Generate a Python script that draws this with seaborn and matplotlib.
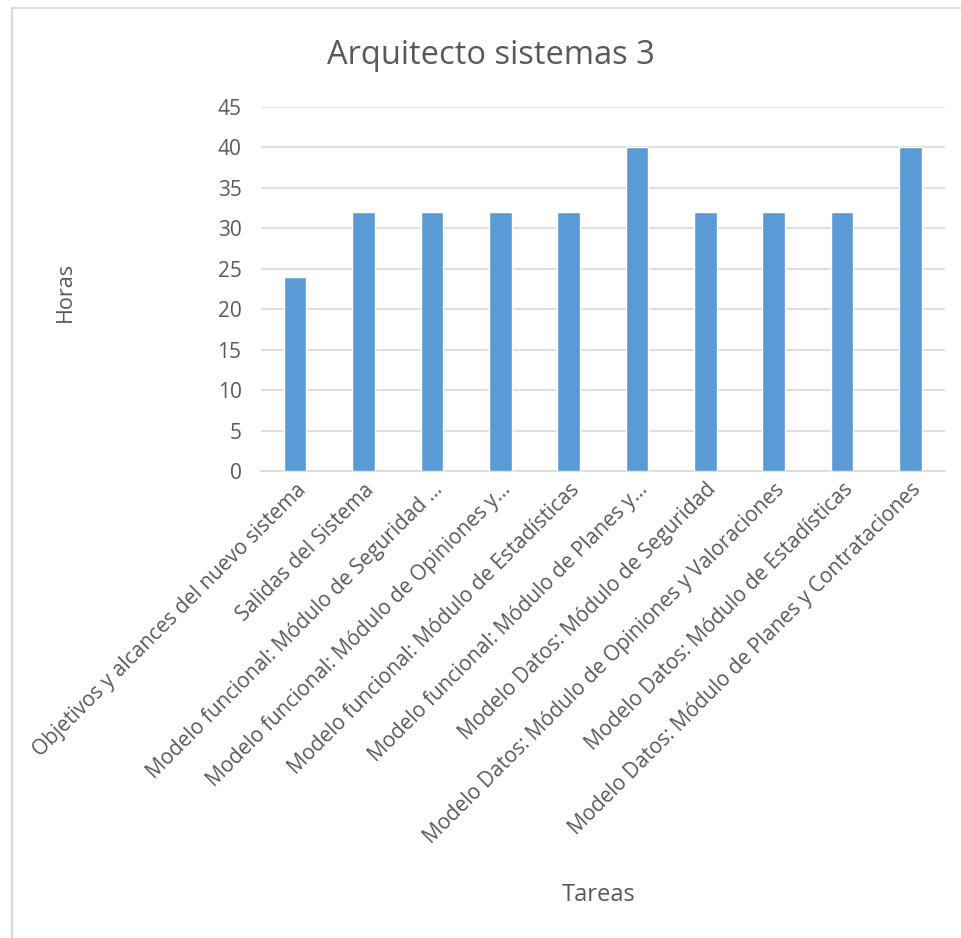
import matplotlib
matplotlib.use("Agg")
import matplotlib.pyplot as plt
import seaborn as sns
import pandas as pd
from matplotlib.lines import Line2D

tareas = [
    "Objetivos y alcances del nuevo sistema",
    "Salidas del Sistema",
    "Modelo funcional: Módulo de Seguridad ...",
    "Modelo funcional: Módulo de Opiniones y...",
    "Modelo funcional: Módulo de Estadísticas",
    "Modelo funcional: Módulo de Planes y...",
    "Modelo Datos: Módulo de Seguridad",
    "Modelo Datos: Módulo de Opiniones y Valoraciones",
    "Modelo Datos: Módulo de Estadísticas",
    "Modelo Datos: Módulo de Planes y Contrataciones",
]
horas = [24, 32, 32, 32, 32, 40, 32, 32, 32, 40]
y_ticks = [0, 5, 10, 15, 20, 25, 30, 35, 40, 45]

df = pd.DataFrame({"tarea": tareas, "horas": horas})

sns.set_style("white")
plt.rcParams['font.family'] = ['Open Sans', 'DejaVu Sans']

text_color = "#595959"
grid_color = "#d9d9d9"
bar_color = "#5b9bd5"

fig = plt.figure(figsize=(9.62, 9.38), dpi=100)
ax = fig.add_axes([0.2713, 0.4979, 0.7107, 0.3881])

sns.barplot(data=df, x="tarea", y="horas", color=bar_color, width=0.33,
            saturation=1, ax=ax, zorder=3)

ax.set_ylim(0, 45)
ax.set_xlim(-0.5, len(tareas) - 0.5)
ax.set_yticks(y_ticks)
ax.yaxis.grid(True, color=grid_color, linewidth=1.2, zorder=0)
ax.set_axisbelow(True)
for side in ["top", "right", "left"]:
    ax.spines[side].set_visible(False)
ax.spines["bottom"].set_color(grid_color)
ax.spines["bottom"].set_linewidth(1.2)
ax.tick_params(axis="both", length=0, colors=text_color, labelsize=15)
ax.tick_params(axis="y", pad=14)
ax.tick_params(axis="x", pad=6)
plt.setp(ax.get_xticklabels(), rotation=45, ha="right", rotation_mode="anchor")

ax.set_xlabel("")
ax.set_ylabel("")
fig.text(599 / 962, 1 - 895 / 938, "Tareas", ha="center", va="center",
         fontsize=17, color=text_color)
fig.text(65 / 962, 1 - 292 / 938, "Horas", ha="center", va="center",
         rotation=90, fontsize=15.5, color=text_color)
fig.text(491 / 962, 1 - 55 / 938, "Arquitecto sistemas 3", ha="center",
         va="center", fontsize=23.5, color=text_color)

# light frame of the chart area
fig.add_artist(Line2D([11.5 / 962, 11.5 / 962], [0, 1 - 8 / 938],
                      transform=fig.transFigure, color="#d9d9d9", linewidth=1.5))
fig.add_artist(Line2D([11.5 / 962, 1], [1 - 8 / 938, 1 - 8 / 938],
                      transform=fig.transFigure, color="#d9d9d9", linewidth=1.5))

fig.savefig("out.png", dpi=100)
